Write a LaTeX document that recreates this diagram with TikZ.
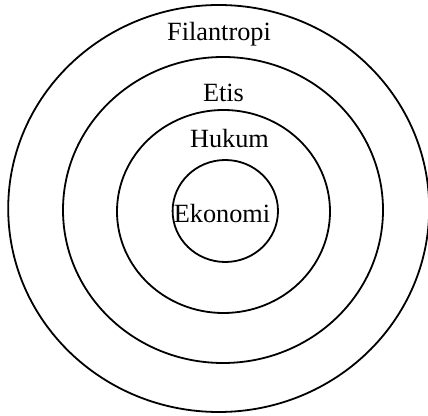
\documentclass[tikz,border=0pt]{standalone}
\usepackage{fontspec}
\setmainfont{Liberation Serif}
\usetikzlibrary{shapes.geometric}
\begin{document}
\begin{tikzpicture}[x=1pt,y=1pt,
  ring/.style={ellipse,draw=black,line width=1.8pt,inner sep=0pt,outer sep=0pt},
  lbl/.style={anchor=base,inner sep=0pt,font=\fontsize{26.3}{30}\selectfont}]
\useasboundingbox (0,0) rectangle (428,415);
\node[ring,minimum width=421pt,minimum height=407pt] (filantropi) at (218.7,206.5) {};
\node[ring,minimum width=320pt,minimum height=306pt] (etis) at (223,205) {};
\node[ring,minimum width=213pt,minimum height=203pt] (hukum) at (223.5,203.5) {};
\node[ring,minimum width=105.4pt,minimum height=102pt] (ekonomi) at (225.3,204) {};
\node[lbl] (tf) at (219,374) {Filantropi};
\node[lbl] (te) at (223.5,313.3) {Etis};
\node[lbl] (th) at (229.5,267.7) {Hukum};
\node[lbl] (tk) at (222,192.5) {Ekonomi};
\end{tikzpicture}
\end{document}
